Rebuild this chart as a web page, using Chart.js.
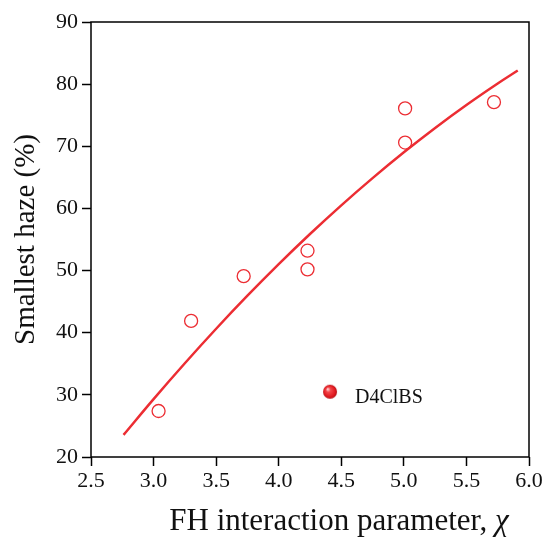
<!DOCTYPE html>
<html>
<head>
<meta charset="utf-8">
<script src="https://cdn.jsdelivr.net/npm/chart.js@4.4.1/dist/chart.umd.min.js"></script>
<style>
  html, body { margin: 0; padding: 0; background: #fff; }
  #wrap { width: 545px; height: 538px; }
</style>
</head>
<body>
<div id="wrap"><canvas id="c" width="545" height="538"></canvas></div>
<script>
// ---- data ----
const measuredX = [3.04, 3.30, 3.72, 4.23, 4.23, 5.01, 5.01, 5.72];
const measuredY = [27.4, 41.9, 49.1, 50.2, 53.2, 76.1, 70.6, 77.1];
const fitX = [2.76, 3.00, 3.25, 3.50, 3.75, 4.00, 4.25, 4.50, 4.75, 5.00, 5.25, 5.50, 5.75, 5.91];
const fitY = [23.56, 29.32, 35.09, 40.64, 45.95, 51.03, 55.88, 60.50, 64.88, 69.04, 72.96, 76.65, 80.11, 82.20];
const specialX = [4.41];
const specialY = [30.5];
const specialLabel = 'D4ClBS';
const xTicks = [2.5, 3.0, 3.5, 4.0, 4.5, 5.0, 5.5, 6.0];
const yTicks = [20, 30, 40, 50, 60, 70, 80, 90];
const xTitleMain = 'FH interaction parameter, ';
const xTitleSymbol = 'χ';
const yTitle = 'Smallest haze (%)';

const RED = '#ec2d33';
const SERIF = '"Liberation Serif", "DejaVu Serif", serif';

// sphere marker
function makeSphere(r) {
  const s = r * 2 + 2;
  const cv = document.createElement('canvas');
  cv.width = s; cv.height = s;
  const g = cv.getContext('2d');
  const cx = s / 2, cy = s / 2;
  const grad = g.createRadialGradient(cx - r * 0.35, cy - r * 0.4, r * 0.05, cx, cy, r);
  grad.addColorStop(0, '#ffd6d6');
  grad.addColorStop(0.3, '#f4474b');
  grad.addColorStop(0.8, '#e0181e');
  grad.addColorStop(1, '#b00d12');
  g.fillStyle = grad;
  g.beginPath(); g.arc(cx, cy, r, 0, Math.PI * 2); g.fill();
  return cv;
}

const pts = (xs, ys) => xs.map((x, i) => ({ x, y: ys[i] }));

const frame = {
  id: 'frame',
  afterDatasetsDraw(chart) {
    const { ctx, chartArea: a } = chart;
    ctx.save();
    ctx.strokeStyle = '#000';
    ctx.lineWidth = 1.5;
    ctx.strokeRect(a.left, a.top, a.right - a.left, a.bottom - a.top);
    // label beside special point
    const xs = chart.scales.x, ys = chart.scales.y;
    const px = xs.getPixelForValue(specialX[0]);
    const py = ys.getPixelForValue(specialY[0]);
    ctx.fillStyle = '#111';
    ctx.font = '20px ' + SERIF;
    ctx.textBaseline = 'middle';
    ctx.textAlign = 'left';
    ctx.fillText(specialLabel, px + 25, py + 6);
    // x-axis title with italic symbol
    const fs = 31;
    ctx.font = fs + 'px ' + SERIF;
    ctx.textBaseline = 'alphabetic';
    const w1 = ctx.measureText(xTitleMain).width;
    ctx.font = 'italic ' + fs + 'px ' + SERIF;
    const w2 = ctx.measureText(xTitleSymbol).width;
    const cx = (a.left + a.right) / 2 + 29;
    const startX = cx - (w1 + w2) / 2;
    const base = a.bottom + 73;
    ctx.font = fs + 'px ' + SERIF;
    ctx.fillText(xTitleMain, startX, base);
    ctx.font = 'italic ' + fs + 'px ' + SERIF;
    ctx.fillText(xTitleSymbol, startX + w1, base);
    ctx.restore();
  }
};

new Chart(document.getElementById('c'), {
  type: 'scatter',
  data: {
    datasets: [
      {
        label: 'fit',
        data: pts(fitX, fitY),
        showLine: true,
        borderColor: RED,
        borderWidth: 2.5,
        pointRadius: 0,
        tension: 0.4,
        fill: false
      },
      {
        label: 'measured',
        data: pts(measuredX, measuredY),
        pointStyle: 'circle',
        pointRadius: 6.5,
        pointBorderWidth: 1.3,
        pointBorderColor: RED,
        pointBackgroundColor: 'rgba(255,255,255,0)',
        showLine: false
      },
      {
        label: specialLabel,
        data: pts(specialX, specialY),
        pointStyle: makeSphere(7),
        showLine: false
      }
    ]
  },
  options: {
    responsive: false,
    animation: false,
    events: [],
    layout: { padding: { top: 22, right: 16, left: 0, bottom: 0 } },
    plugins: { legend: { display: false }, tooltip: { enabled: false } },
    scales: {
      x: {
        type: 'linear',
        min: 2.5, max: 6.0,
        afterBuildTicks: s => { s.ticks = xTicks.map(v => ({ value: v })); },
        afterFit: s => { s.height = 81; },
        border: { display: false },
        grid: { display: true, drawOnChartArea: false, drawTicks: true, tickLength: 9, tickColor: '#000', tickWidth: 1.5 },
        ticks: {
          color: '#111', padding: 2,
          font: { family: SERIF, size: 22 },
          callback: v => v.toFixed(1),
          maxRotation: 0, autoSkip: false
        }
      },
      y: {
        type: 'linear',
        min: 20, max: 90,
        afterBuildTicks: s => { s.ticks = yTicks.map(v => ({ value: v })); },
        afterFit: s => { s.width = 91; },
        border: { display: false },
        grid: { display: true, drawOnChartArea: false, drawTicks: true, tickLength: 9, tickColor: '#000', tickWidth: 1.5 },
        ticks: {
          color: '#111', padding: 4,
          font: { family: SERIF, size: 22 },
          autoSkip: false
        },
        title: {
          display: true,
          text: yTitle,
          color: '#111',
          font: { family: SERIF, size: 29 },
          padding: { top: 9, bottom: 0 }
        }
      }
    }
  },
  plugins: [frame]
});
</script>
</body>
</html>
